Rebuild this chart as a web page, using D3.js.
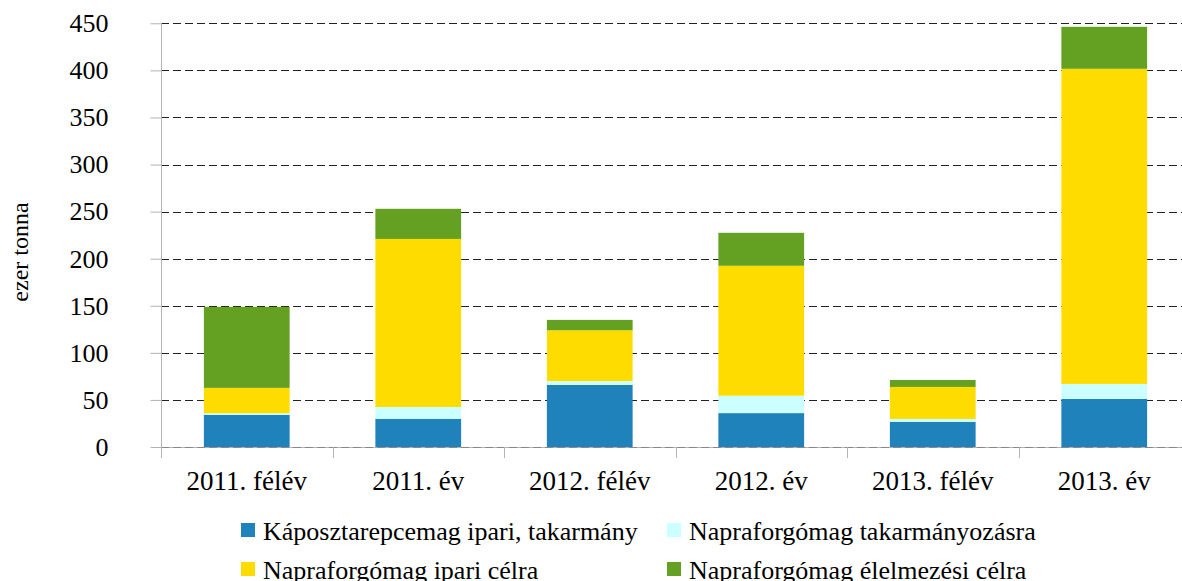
<!DOCTYPE html>
<html>
<head>
<meta charset="utf-8">
<script src="https://cdn.jsdelivr.net/npm/d3@7"></script>
<style>
  body { margin: 0; background: #fff; }
  svg text { font-family: "Liberation Serif", "Times New Roman", serif; fill: #000; }
</style>
</head>
<body>
<div id="chart"></div>
<script>
// chart data
var categories = ["2011. félév", "2011. év", "2012. félév", "2012. év", "2013. félév", "2013. év"];
var seriesNames = [
  "Káposztarepcemag ipari, takarmány",
  "Napraforgómag takarmányozásra",
  "Napraforgómag ipari célra",
  "Napraforgómag élelmezési célra"
];
var repce = [34, 30, 66, 36, 26.6, 51];
var naprTakarmany = [1.8, 12.5, 4, 18.5, 3.2, 16];
var naprIpari = [27, 178.5, 54, 138, 34, 334.7];
var naprElelmezesi = [86, 32, 11, 35, 7.4, 44.6];
var yTicks = [0, 50, 100, 150, 200, 250, 300, 350, 400, 450];
var colors = ["#1f82ba", "#ccffff", "#ffdc00", "#64a022"];

var width = 1182, height = 581;
var svg = d3.select("#chart").append("svg")
  .attr("width", width)
  .attr("height", height);

var rows = categories.map(function (c, i) {
  return { cat: c, s0: repce[i], s1: naprTakarmany[i], s2: naprIpari[i], s3: naprElelmezesi[i] };
});
var stacked = d3.stack().keys(["s0", "s1", "s2", "s3"])(rows);

var x = d3.scaleBand()
  .domain(categories)
  .range([161, 161 + 6 * 171.5])
  .paddingInner(0.5)
  .paddingOuter(0.25);

var y = d3.scaleLinear().domain([0, 450]).range([447, 23.3]);

// gridlines
svg.append("g")
  .selectAll("line")
  .data(yTicks.slice(1))
  .enter()
  .append("line")
  .attr("x1", 161)
  .attr("x2", width)
  .attr("y1", function (d) { return Math.round(y(d)) + 0.5; })
  .attr("y2", function (d) { return Math.round(y(d)) + 0.5; })
  .attr("stroke", "#222")
  .attr("stroke-dasharray", "8,4");

// bars
svg.append("g")
  .selectAll("g")
  .data(stacked)
  .enter()
  .append("g")
  .attr("fill", function (d, i) { return colors[i]; })
  .selectAll("rect")
  .data(function (d) { return d; })
  .enter()
  .append("rect")
  .attr("x", function (d) { return x(d.data.cat); })
  .attr("width", x.bandwidth())
  .attr("y", function (d) { return y(d[1]); })
  .attr("height", function (d) { return y(d[0]) - y(d[1]); });

// y axis
var yAxis = svg.append("g")
  .attr("transform", "translate(161.5,0)")
  .call(d3.axisLeft(y).tickValues(yTicks).tickSize(11).tickPadding(42).tickSizeOuter(0));
yAxis.select(".domain").attr("stroke", "#b3b3b3").attr("d", "M0,447V23");
yAxis.selectAll(".tick line").attr("stroke", "#b3b3b3");
yAxis.selectAll("text").style("font-size", "26px");

// x axis baseline and ticks at category boundaries
svg.append("line")
  .attr("x1", 161).attr("x2", width)
  .attr("y1", 447.5).attr("y2", 447.5)
  .attr("stroke", "#b3b3b3");
svg.append("line")
  .attr("x1", 161).attr("x2", width)
  .attr("y1", 447.5).attr("y2", 447.5)
  .attr("stroke", "#888")
  .attr("stroke-dasharray", "8,4");

var bounds = categories.map(function (c) { return x(c) - x.step() * 0.25; });
svg.append("g")
  .selectAll("line")
  .data(bounds)
  .enter()
  .append("line")
  .attr("x1", function (d) { return Math.round(d) + 0.5; })
  .attr("x2", function (d) { return Math.round(d) + 0.5; })
  .attr("y1", 447)
  .attr("y2", 458)
  .attr("stroke", "#b3b3b3");

var xAxis = svg.append("g")
  .attr("transform", "translate(0,447)")
  .call(d3.axisBottom(x).tickSize(0).tickPadding(24));
xAxis.select(".domain").remove();
xAxis.selectAll("text").style("font-size", "27px");

// y label
svg.append("text")
  .attr("transform", "translate(28,252) rotate(-90)")
  .attr("text-anchor", "middle")
  .style("font-size", "24px")
  .text("ezer tonna");

// legend
var legendPos = [[241, 523], [667, 523], [241, 562], [667, 562]];
var legend = svg.append("g")
  .selectAll("g")
  .data(seriesNames)
  .enter()
  .append("g")
  .attr("transform", function (d, i) { return "translate(" + legendPos[i][0] + "," + legendPos[i][1] + ")"; });
legend.append("rect")
  .attr("width", 14)
  .attr("height", 14)
  .attr("fill", function (d, i) { return colors[i]; });
legend.append("text")
  .attr("x", 22)
  .attr("y", 17)
  .style("font-size", "26px")
  .text(function (d) { return d; });
</script>
</body>
</html>
